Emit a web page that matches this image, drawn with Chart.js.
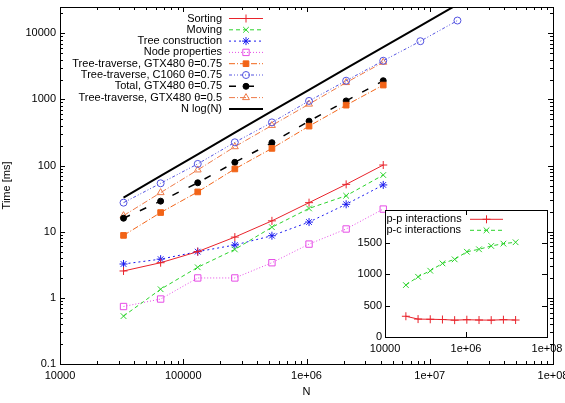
<!DOCTYPE html>
<html>
<head>
<meta charset="utf-8">
<script src="https://cdn.jsdelivr.net/npm/chart.js@4.4.0/dist/chart.umd.min.js"></script>
<style>
  body { margin: 0; background: #fff; }
  #wrap { position: relative; width: 565px; height: 403px; }
  #main { position: absolute; left: 0; top: 0; }
  #inset { position: absolute; left: 340px; top: 200px; }
</style>
</head>
<body>
<div id="wrap">
  <canvas id="main" width="565" height="403"></canvas>
  <canvas id="inset" width="225" height="160"></canvas>
</div>
<script>
// ---- main plot data ----
const nValues = [32768, 65536, 131072, 262144, 524288, 1048576, 2097152, 4194304];
const nValuesLong = [32768, 65536, 131072, 262144, 524288, 1048576, 2097152, 4194304, 8388608, 16777216];

const sorting     = [2.55, 3.4, 5.0, 8.3, 14.6, 27.5, 52, 102];
const moving      = [0.53, 1.35, 2.9, 5.4, 11.7, 22.5, 35, 72];
const treeBuild   = [3.25, 3.85, 5.0, 6.3, 8.7, 14, 26, 51];
const nodeProps   = [0.74, 0.96, 2.0, 2.0, 3.4, 6.5, 11, 22];
const walkGtx075  = [8.8, 19.5, 40, 89, 182, 395, 820, 1650];
const walkC1060   = [27.5, 54, 106, 225, 450, 950, 1920, 3850, 7600, 15600];
const totalGtx075 = [16, 29, 55, 112, 222, 470, 950, 1920];
const walkGtx05   = [17.5, 39, 86, 193, 405, 850, 1800, 3650];
const nLogN       = [32.7, 69.7, 148, 314, 665, 1400, 2950, 6200, 13000, 27300];

const xTickValues = [1e4, 1e5, 1e6, 1e7, 1e8];
const xTickLabels = ["10000", "100000", "1e+06", "1e+07", "1e+08"];
const yTickValues = [0.1, 1, 10, 100, 1000, 10000];
const yTickLabels = ["0.1", "1", "10", "100", "1000", "10000"];

// ---- inset data ----
const ppInter  = [330, 285, 282, 278, 268, 275, 270, 268, 275, 270];
const pcInter  = [826, 958, 1054, 1171, 1235, 1356, 1395, 1448, 1485, 1507];
const insetXTicks = [1e4, 1e6, 1e8];
const insetXLabels = ["10000", "1e+06", "1e+08"];
const insetYTicks = [0, 500, 1000, 1500];

Chart.defaults.font.family = '"Liberation Sans", Arial, sans-serif';
Chart.defaults.font.size = 11;
Chart.defaults.color = "#000";

function series(label, xs, ys, style) {
    return Object.assign({
        label: label,
        data: xs.map((x, i) => ({ x: x, y: ys[i] })),
        fill: false,
        tension: 0,
        borderWidth: 1,
        pointBorderWidth: 1
    }, style);
}

function logMinor(from, to) {
    const out = [];
    for (let d = from; d < to; d *= 10) {
        for (let k = 2; k <= 9; k++) out.push(d * k);
    }
    return out;
}

// frame + inward tick marks, like gnuplot
const frameTicks = {
    id: "frameTicks",
    beforeDraw(chart) {
        const a = chart.chartArea, ctx = chart.ctx;
        if (chart.options.plugins.frameTicks.whiteBg) {
            ctx.save();
            ctx.fillStyle = "#fff";
            ctx.fillRect(a.left, a.top, a.right - a.left, a.bottom - a.top);
            ctx.restore();
        }
    },
    afterDraw(chart) {
        const cfg = chart.options.plugins.frameTicks;
        const a = chart.chartArea, ctx = chart.ctx;
        const xs = chart.scales.x, ys = chart.scales.y;
        ctx.save();
        ctx.strokeStyle = "#000";
        ctx.lineWidth = 1;
        ctx.beginPath();
        const put = (list, len, horiz) => {
            list.forEach(v => {
                if (horiz) {
                    const p = Math.round(xs.getPixelForValue(v)) + 0.5;
                    if (p < a.left || p > a.right) return;
                    ctx.moveTo(p, a.bottom); ctx.lineTo(p, a.bottom - len);
                    ctx.moveTo(p, a.top); ctx.lineTo(p, a.top + len);
                } else {
                    const p = Math.round(ys.getPixelForValue(v)) + 0.5;
                    if (p < a.top || p > a.bottom) return;
                    ctx.moveTo(a.left, p); ctx.lineTo(a.left + len, p);
                    ctx.moveTo(a.right, p); ctx.lineTo(a.right - len, p);
                }
            });
        };
        put(cfg.xMajor, 5, true);
        put(cfg.xMinor, 3, true);
        put(cfg.yMajor, 5, false);
        put(cfg.yMinor, 3, false);
        ctx.stroke();
        ctx.strokeRect(Math.round(a.left) + 0.5, Math.round(a.top) + 0.5,
            Math.round(a.right - a.left), Math.round(a.bottom - a.top));
        ctx.restore();
    }
};

// gnuplot-style key: label, then line sample with marker
const keyRows = {
    id: "keyRows",
    afterDraw(chart) {
        const cfg = chart.options.plugins.keyRows;
        const ctx = chart.ctx;
        ctx.save();
        ctx.font = '11px "Liberation Sans", Arial, sans-serif';
        ctx.textAlign = cfg.align;
        ctx.textBaseline = "middle";
        chart.data.datasets.forEach((ds, i) => {
            const y = cfg.top + i * cfg.step;
            ctx.fillStyle = "#000";
            ctx.fillText(ds.label, cfg.textX, y);
            ctx.strokeStyle = ds.borderColor;
            ctx.lineWidth = ds.borderWidth;
            ctx.setLineDash(ds.borderDash || []);
            ctx.beginPath();
            ctx.moveTo(cfg.lineFrom, y);
            ctx.lineTo(cfg.lineTo, y);
            ctx.stroke();
            ctx.setLineDash([]);
            if (ds.pointRadius && Chart.helpers && Chart.helpers.drawPoint) {
                ctx.fillStyle = ds.pointBackgroundColor || "rgba(0,0,0,0)";
                ctx.strokeStyle = ds.borderColor;
                ctx.lineWidth = 1;
                Chart.helpers.drawPoint(ctx, {
                    pointStyle: ds.pointStyle, radius: ds.pointRadius,
                    rotation: 0, borderWidth: 1
                }, (cfg.lineFrom + cfg.lineTo) / 2, y);
            }
        });
        ctx.restore();
    }
};

const none = "rgba(0,0,0,0)";
const red = "#e8232b", green = "#2bd32b", blue = "#1a1aee", magenta = "#e64ce6";
const orange = "#f26418", blue2 = "#5252e0", orange2 = "#ee7a48";
const noGrid = { display: false, drawTicks: false, tickLength: 0 };

new Chart(document.getElementById("main"), {
    type: "line",
    data: {
        datasets: [
            series("Sorting", nValues, sorting, { borderColor: red, pointStyle: "cross", pointRadius: 4, pointBackgroundColor: none }),
            series("Moving", nValues, moving, { borderColor: green, borderDash: [4, 3], pointStyle: "crossRot", pointRadius: 4, pointBackgroundColor: none }),
            series("Tree construction", nValues, treeBuild, { borderColor: blue, borderDash: [2, 3], pointStyle: "star", pointRadius: 4, pointBackgroundColor: none }),
            series("Node properties", nValues, nodeProps, { borderColor: magenta, borderDash: [1, 2], pointStyle: "rect", pointRadius: 4.5, pointBackgroundColor: none }),
            series("Tree-traverse, GTX480 θ=0.75", nValues, walkGtx075, { borderColor: orange, borderDash: [6, 2, 1, 2], pointStyle: "rect", pointRadius: 4, pointBackgroundColor: orange }),
            series("Tree-traverse, C1060 θ=0.75", nValuesLong, walkC1060, { borderColor: blue2, borderDash: [3, 2, 1, 2, 1, 2], pointStyle: "circle", pointRadius: 3.5, pointBackgroundColor: none }),
            series("Total, GTX480 θ=0.75", nValues, totalGtx075, { borderColor: "#000", borderWidth: 1.5, borderDash: [7, 11], pointStyle: "circle", pointRadius: 3, pointBackgroundColor: "#000" }),
            series("Tree-traverse, GTX480 θ=0.5", nValues, walkGtx05, { borderColor: orange2, borderDash: [6, 2, 1, 2], pointStyle: "triangle", pointRadius: 4, pointBackgroundColor: none }),
            series("N log(N)", nValuesLong, nLogN, { borderColor: "#000", borderWidth: 2, pointRadius: 0 })
        ]
    },
    options: {
        responsive: false,
        animation: false,
        layout: { padding: { top: 7, right: 12, left: 0, bottom: 0 } },
        scales: {
            x: {
                type: "logarithmic", min: 1e4, max: 1e8,
                grid: noGrid, border: { display: false },
                afterBuildTicks: s => { s.ticks = xTickValues.map(v => ({ value: v })); },
                afterFit: s => { s.height = 39; s.paddingLeft = 0; s.paddingRight = 0; },
                ticks: { autoSkip: false, maxRotation: 0, padding: 5, callback: (v, i) => xTickLabels[i] },
                title: { display: true, text: "N", padding: { top: 0, bottom: 4 } }
            },
            y: {
                type: "logarithmic", min: 0.1, max: 25000,
                grid: noGrid, border: { display: false },
                afterBuildTicks: s => { s.ticks = yTickValues.map(v => ({ value: v })); },
                afterFit: s => { s.width = 60; s.paddingTop = 0; s.paddingBottom = 0; },
                ticks: { autoSkip: false, padding: 4, callback: (v, i) => yTickLabels[i] },
                title: { display: true, text: "Time [ms]", padding: { top: 0, bottom: 0 } }
            }
        },
        plugins: {
            legend: { display: false },
            tooltip: { enabled: false },
            frameTicks: {
                xMajor: xTickValues, xMinor: logMinor(1e4, 1e8),
                yMajor: yTickValues, yMinor: logMinor(0.1, 1e4).concat([20000])
            },
            keyRows: { align: "right", textX: 222, top: 18.5, step: 11.3, lineFrom: 229, lineTo: 263 }
        }
    },
    plugins: [frameTicks, keyRows]
});

new Chart(document.getElementById("inset"), {
    type: "line",
    data: {
        datasets: [
            series("p-p interactions", nValuesLong, ppInter, { borderColor: red, pointStyle: "cross", pointRadius: 4, pointBackgroundColor: none }),
            series("p-c interactions", nValuesLong, pcInter, { borderColor: green, borderDash: [4, 3], pointStyle: "crossRot", pointRadius: 4, pointBackgroundColor: none })
        ]
    },
    options: {
        responsive: false,
        animation: false,
        layout: { padding: { top: 10, right: 18, left: 0, bottom: 0 } },
        scales: {
            x: {
                type: "logarithmic", min: 1e4, max: 1e8,
                grid: noGrid, border: { display: false },
                afterBuildTicks: s => { s.ticks = insetXTicks.map(v => ({ value: v })); },
                afterFit: s => { s.height = 23; s.paddingLeft = 0; s.paddingRight = 0; },
                ticks: { autoSkip: false, maxRotation: 0, padding: 5, callback: (v, i) => insetXLabels[i] }
            },
            y: {
                min: 0, max: 2020,
                grid: noGrid, border: { display: false },
                afterBuildTicks: s => { s.ticks = insetYTicks.map(v => ({ value: v })); },
                afterFit: s => { s.width = 45; s.paddingTop = 0; s.paddingBottom = 0; },
                ticks: { autoSkip: false, padding: 3, callback: (v, i) => String(insetYTicks[i]) }
            }
        },
        plugins: {
            legend: { display: false },
            tooltip: { enabled: false },
            frameTicks: { whiteBg: true, xMajor: insetXTicks, xMinor: [], yMajor: insetYTicks, yMinor: [] },
            keyRows: { align: "left", textX: 46.5, top: 19.3, step: 11, lineFrom: 130, lineTo: 163 }
        }
    },
    plugins: [frameTicks, keyRows]
});
</script>
</body>
</html>
